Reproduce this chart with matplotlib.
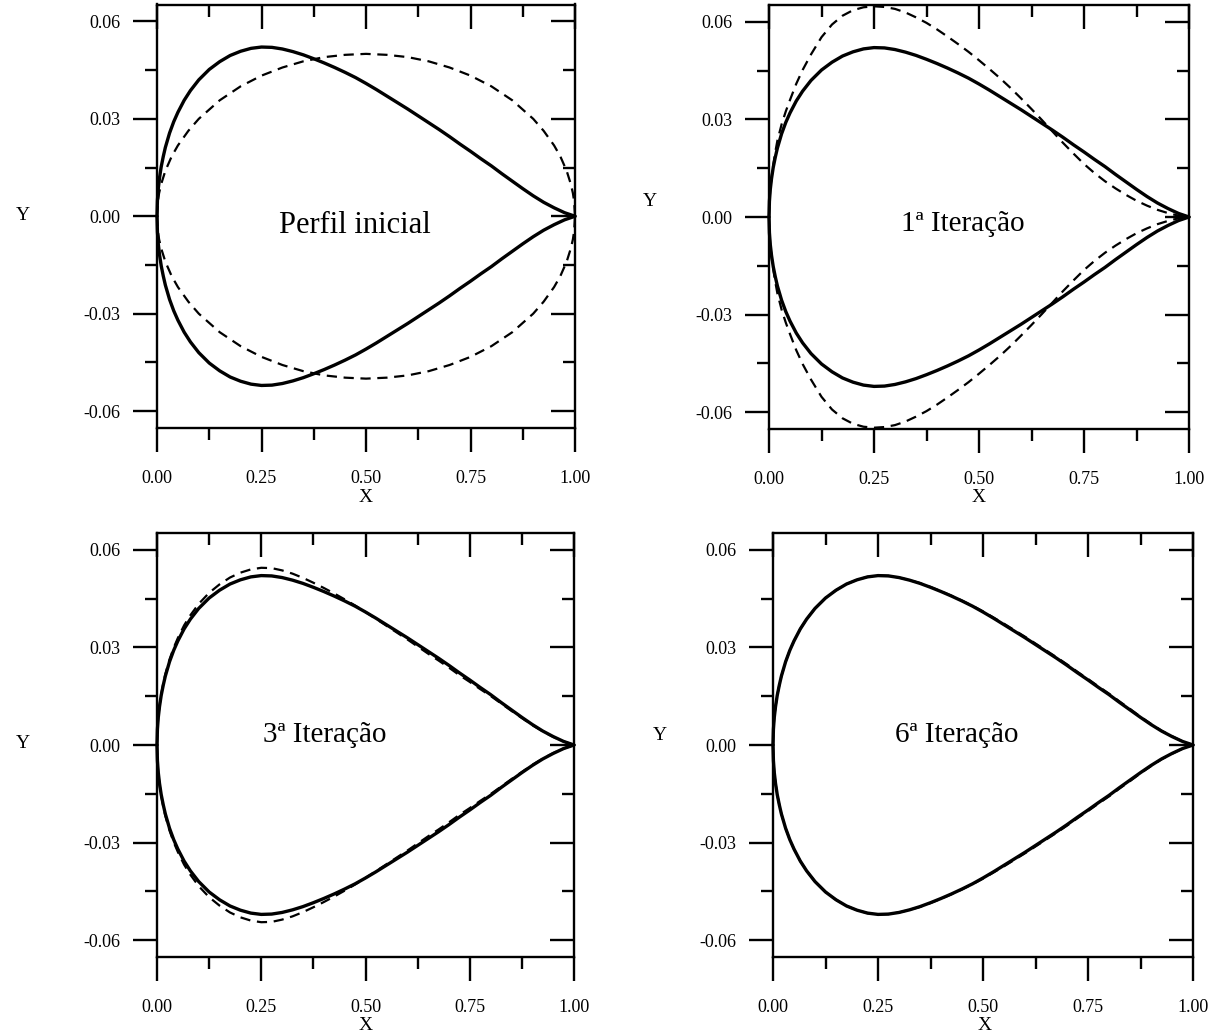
import matplotlib
matplotlib.use("Agg")
import matplotlib.pyplot as plt
import numpy as np

plt.rcParams['font.family'] = ['Liberation Serif', 'DejaVu Serif']

# ---------------- data ----------------
x_pts = [0.0, 0.001, 0.003, 0.006, 0.01, 0.015, 0.02, 0.03, 0.04, 0.05, 0.065, 0.08,
         0.1, 0.125, 0.15, 0.175,
         0.2, 0.225, 0.25, 0.275, 0.3, 0.325, 0.35, 0.375, 0.4, 0.425, 0.45, 0.475,
         0.5, 0.525, 0.55, 0.575, 0.6, 0.625, 0.65, 0.675, 0.7, 0.725, 0.75, 0.775,
         0.8, 0.825, 0.85, 0.875, 0.9, 0.925, 0.95, 0.975, 1.0]

# target profile (solid line)
target_upper = [0.0, 0.0048, 0.0084, 0.0118, 0.0152, 0.0184, 0.0212, 0.0256, 0.0291, 0.0320,
                0.0357, 0.0387, 0.0420, 0.0452, 0.0476, 0.0495,
                0.0508, 0.0517, 0.0521, 0.0520, 0.0515, 0.0507, 0.0497, 0.0485, 0.0472, 0.0458,
                0.0443, 0.0427, 0.0409, 0.0390, 0.0370, 0.0350, 0.0330, 0.0309, 0.0288, 0.0267,
                0.0245, 0.0222, 0.0200, 0.0177, 0.0155, 0.0131, 0.0108, 0.0085, 0.0063, 0.0043,
                0.0026, 0.0011, 0.0]
target_lower = [0.0, -0.0048, -0.0084, -0.0118, -0.0152, -0.0184, -0.0212, -0.0256, -0.0291, -0.0320,
                -0.0357, -0.0387, -0.0420, -0.0452, -0.0476, -0.0495,
                -0.0508, -0.0517, -0.0521, -0.0520, -0.0515, -0.0507, -0.0497, -0.0485, -0.0472, -0.0458,
                -0.0443, -0.0427, -0.0409, -0.0390, -0.0370, -0.0350, -0.0330, -0.0309, -0.0288, -0.0267,
                -0.0245, -0.0222, -0.0200, -0.0177, -0.0155, -0.0131, -0.0108, -0.0085, -0.0063, -0.0043,
                -0.0026, -0.0011, 0.0]

# initial profile (dashed, panel 1)
x_init = [0.0, 0.002, 0.005, 0.01, 0.02, 0.035, 0.05, 0.075, 0.1, 0.15, 0.2, 0.25, 0.3, 0.35,
          0.4, 0.45, 0.5, 0.55, 0.6, 0.65, 0.7, 0.75, 0.8, 0.85, 0.9, 0.925, 0.95, 0.965,
          0.98, 0.99, 0.995, 0.998, 1.0]
init_upper = [0.0, 0.0045, 0.0071, 0.0099, 0.0140, 0.0184, 0.0218, 0.0263, 0.0300, 0.0357,
              0.0400, 0.0433, 0.0458, 0.0477, 0.0490, 0.0497, 0.0500, 0.0497, 0.0490, 0.0477,
              0.0458, 0.0433, 0.0400, 0.0357, 0.0300, 0.0263, 0.0218, 0.0184, 0.0140, 0.0099,
              0.0071, 0.0045, 0.0]
init_lower = [0.0, -0.0045, -0.0071, -0.0099, -0.0140, -0.0184, -0.0218, -0.0263, -0.0300, -0.0357,
              -0.0400, -0.0433, -0.0458, -0.0477, -0.0490, -0.0497, -0.0500, -0.0497, -0.0490, -0.0477,
              -0.0458, -0.0433, -0.0400, -0.0357, -0.0300, -0.0263, -0.0218, -0.0184, -0.0140, -0.0099,
              -0.0071, -0.0045, 0.0]

# 1st iteration (dashed, panel 2)
it1_upper = [0.0, 0.0045, 0.0085, 0.0122, 0.0160, 0.0200, 0.0235, 0.0285, 0.0325, 0.0360,
             0.0410, 0.0452, 0.0500, 0.0553, 0.0592, 0.0619,
             0.0636, 0.0645, 0.0648, 0.0646, 0.0640, 0.0629, 0.0614, 0.0597, 0.0577, 0.0555,
             0.0532, 0.0508, 0.0482, 0.0455, 0.0427, 0.0397, 0.0365, 0.0332, 0.0298, 0.0263,
             0.0228, 0.0195, 0.0163, 0.0135, 0.0110, 0.0088, 0.0068, 0.0050, 0.0035, 0.0022,
             0.0012, 0.0004, 0.0]
it1_lower = [0.0, -0.0045, -0.0085, -0.0122, -0.0160, -0.0200, -0.0235, -0.0285, -0.0325, -0.0360,
             -0.0410, -0.0452, -0.0500, -0.0553, -0.0592, -0.0619,
             -0.0636, -0.0645, -0.0648, -0.0646, -0.0640, -0.0629, -0.0614, -0.0597, -0.0577, -0.0555,
             -0.0532, -0.0508, -0.0482, -0.0455, -0.0427, -0.0397, -0.0365, -0.0332, -0.0298, -0.0263,
             -0.0228, -0.0195, -0.0163, -0.0135, -0.0110, -0.0088, -0.0068, -0.0050, -0.0035, -0.0022,
             -0.0012, -0.0004, 0.0]

# 3rd iteration (dashed, panel 3)
it3_upper = [0.0, 0.0049, 0.0086, 0.0121, 0.0156, 0.0189, 0.0218, 0.0263, 0.0299, 0.0329,
             0.0368, 0.0399, 0.0434, 0.0468, 0.0494, 0.0515,
             0.0530, 0.0540, 0.0545, 0.0544, 0.0537, 0.0527, 0.0514, 0.0499, 0.0483, 0.0466,
             0.0448, 0.0429, 0.0409, 0.0388, 0.0367, 0.0346, 0.0325, 0.0303, 0.0281, 0.0260,
             0.0238, 0.0215, 0.0194, 0.0172, 0.0151, 0.0128, 0.0105, 0.0083, 0.0061, 0.0042,
             0.0025, 0.0011, 0.0]
it3_lower = [0.0, -0.0049, -0.0086, -0.0121, -0.0156, -0.0189, -0.0218, -0.0263, -0.0299, -0.0329,
             -0.0368, -0.0399, -0.0434, -0.0468, -0.0494, -0.0515,
             -0.0530, -0.0540, -0.0545, -0.0544, -0.0537, -0.0527, -0.0514, -0.0499, -0.0483, -0.0466,
             -0.0448, -0.0429, -0.0409, -0.0388, -0.0367, -0.0346, -0.0325, -0.0303, -0.0281, -0.0260,
             -0.0238, -0.0215, -0.0194, -0.0172, -0.0151, -0.0128, -0.0105, -0.0083, -0.0061, -0.0042,
             -0.0025, -0.0011, 0.0]

# 6th iteration (dashed, panel 4)
it6_upper = [0.0, 0.0048, 0.0084, 0.0118, 0.0152, 0.0184, 0.0212, 0.0256, 0.0291, 0.0320,
             0.0357, 0.0387, 0.0420, 0.0452, 0.0476, 0.0495,
             0.0508, 0.0517, 0.0521, 0.0520, 0.0515, 0.0507, 0.0498, 0.0486, 0.0473, 0.0459,
             0.0444, 0.0428, 0.0411, 0.0392, 0.0373, 0.0353, 0.0333, 0.0312, 0.0291, 0.0270,
             0.0248, 0.0225, 0.0203, 0.0180, 0.0158, 0.0134, 0.0111, 0.0087, 0.0065, 0.0044,
             0.0027, 0.0011, 0.0]
it6_lower = [0.0, -0.0048, -0.0084, -0.0118, -0.0152, -0.0184, -0.0212, -0.0256, -0.0291, -0.0320,
             -0.0357, -0.0387, -0.0420, -0.0452, -0.0476, -0.0495,
             -0.0508, -0.0517, -0.0521, -0.0520, -0.0515, -0.0507, -0.0498, -0.0486, -0.0473, -0.0459,
             -0.0444, -0.0428, -0.0411, -0.0392, -0.0373, -0.0353, -0.0333, -0.0312, -0.0291, -0.0270,
             -0.0248, -0.0225, -0.0203, -0.0180, -0.0158, -0.0134, -0.0111, -0.0087, -0.0065, -0.0044,
             -0.0027, -0.0011, 0.0]

panel_titles = ["Perfil inicial", "1ª Iteração", "3ª Iteração", "6ª Iteração"]

x_major = [0.0, 0.25, 0.5, 0.75, 1.0]
x_major_labels = ["0.00", "0.25", "0.50", "0.75", "1.00"]
x_minor = [0.125, 0.375, 0.625, 0.875]
y_major = [-0.06, -0.03, 0.0, 0.03, 0.06]
y_major_labels = ["-0.06", "-0.03", "0.00", "0.03", "0.06"]
y_minor = [-0.045, -0.015, 0.015, 0.045]

# ---------------- figure ----------------
W, H = 1220, 1035
fig = plt.figure(figsize=(W / 100, H / 100), dpi=100)


def rect_px(x0, x1, ytop, ybot):
    return [x0 / W, 1 - ybot / H, (x1 - x0) / W, (ybot - ytop) / H]


rects = [rect_px(157, 575, 4.5, 428),
         rect_px(769, 1189, 5, 429),
         rect_px(157, 574, 533, 957),
         rect_px(773, 1193, 533, 957)]

dashed_sets = [(x_init, init_upper, init_lower),
               (x_pts, it1_upper, it1_lower),
               (x_pts, it3_upper, it3_lower),
               (x_pts, it6_upper, it6_lower)]

title_pos = [(0.4725, -0.0052, 22), (0.461, -0.0043, 21), (0.402, 0.0008, 21), (0.437, 0.0008, 21)]
ylab_px = [(23, 216), (650, 202), (23, 744), (660, 735)]
xlab_px = [(366, 498), (979, 498), (366, 1026), (985, 1026)]

YL = 0.0652
LW_AX = 1.7
for i, r in enumerate(rects):
    ax = fig.add_axes(r)
    ax.set_xlim(0, 1)
    ax.set_ylim(-YL, YL)
    ax.set_xticks(x_major)
    ax.set_xticklabels(x_major_labels)
    ax.set_xticks(x_minor, minor=True)
    ax.set_yticks(y_major)
    ax.set_yticklabels(y_major_labels)
    ax.set_yticks(y_minor, minor=True)
    ax.tick_params(which='major', direction='out', length=17.3, width=LW_AX, labelsize=13)
    ax.tick_params(which='minor', direction='out', length=8.6, width=LW_AX)
    ax.tick_params(axis='x', which='major', pad=13.0)
    ax.tick_params(axis='y', which='major', pad=9.0)
    for s in ax.spines.values():
        s.set_linewidth(LW_AX)

    # solid target profile
    xs = np.array(x_pts)
    ax.plot(xs, target_upper, color='black', lw=2.4, solid_capstyle='round',
            solid_joinstyle='round', clip_on=False)
    ax.plot(xs, target_lower, color='black', lw=2.4, solid_capstyle='round',
            solid_joinstyle='round', clip_on=False)
    # dashed profile
    xd, du, dl = dashed_sets[i]
    ax.plot(xd, du, color='black', lw=1.6, dashes=(4.6, 3.0), clip_on=False)
    ax.plot(xd, dl, color='black', lw=1.6, dashes=(4.6, 3.0), clip_on=False)

    tx, ty, fs = title_pos[i]
    ax.text(tx, ty, panel_titles[i], ha='center', va='baseline', fontsize=fs)

    # overlay axes for inward top/right ticks
    ax2 = fig.add_axes(r, label=f"overlay{i}")
    ax2.set_xlim(0, 1)
    ax2.set_ylim(-YL, YL)
    ax2.set_xticks(x_major)
    ax2.set_xticks(x_minor, minor=True)
    ax2.set_yticks(y_major)
    ax2.set_yticks(y_minor, minor=True)
    ax2.tick_params(which='both', direction='in', top=True, right=True, bottom=False, left=False,
                    labelbottom=False, labelleft=False, labeltop=False, labelright=False, width=LW_AX)
    ax2.tick_params(which='major', length=17.3)
    ax2.tick_params(which='minor', length=8.6)
    ax2.patch.set_visible(False)
    for s in ax2.spines.values():
        s.set_visible(False)

    yx, yy = ylab_px[i]
    fig.text(yx / W, 1 - yy / H, "Y", ha='center', va='center', fontsize=14)
    xx, xy = xlab_px[i]
    fig.text(xx / W, 1 - xy / H, "X", ha='center', va='center', fontsize=14)

fig.savefig("out.png", dpi=100)
